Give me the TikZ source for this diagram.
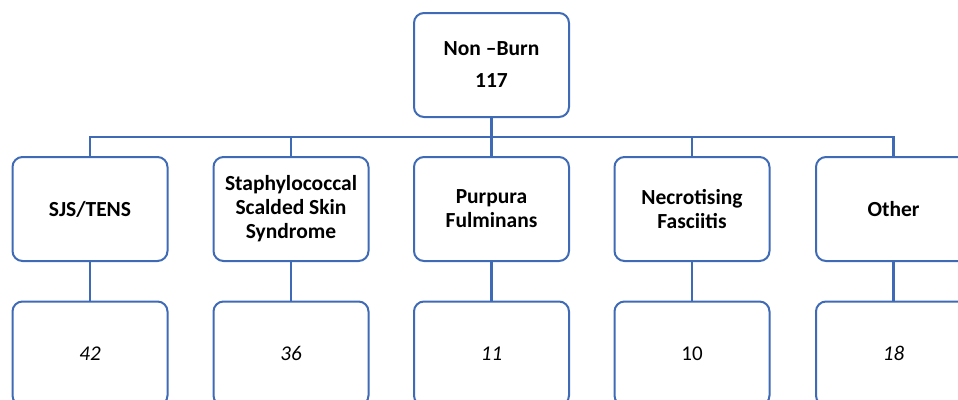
\documentclass[tikz,border=0pt]{standalone}
\usepackage{fontspec}
\setmainfont{Carlito}
\definecolor{boxblue}{RGB}{63,106,182}
\begin{document}
\begin{tikzpicture}[x=1pt,y=-1pt,
  box/.style={draw=boxblue, line width=2pt, rounded corners=10pt, fill=white,
    minimum width=155pt, minimum height=104pt, align=center, inner sep=2pt,
    font=\fontsize{21.5}{24}\selectfont\bfseries},
  numbox/.style={box, font=\fontsize{21}{24}\selectfont\itshape},
  conn/.style={draw=boxblue, line width=2.6pt}]
\useasboundingbox (0,0) rectangle (958,399);
\clip (0,0) rectangle (958,399);
\node[box] (top) at (491.5,65) {Non –Burn\\[8pt]117};
\node[box] (a) at (90,209) {SJS/TENS};
\node[box] (b) at (291,209) {Staphylococcal\\Scalded Skin\\Syndrome};
\node[box] (c) at (491.5,209) {Purpura\\Fulminans};
\node[box] (d) at (692,209) {Necrotising\\Fasciitis};
\node[box] (e) at (893.5,209) {Other};
\node[numbox] (a2) at (90,353.5) {42};
\node[numbox] (b2) at (291,353.5) {36};
\node[numbox] (c2) at (491.5,353.5) {11};
\node[box, font=\fontsize{21}{24}\selectfont] (d2) at (692,353.5) {10};
\node[numbox] (e2) at (893.5,353.5) {18};
\coordinate (bus) at (0,137);
\draw[conn] (top.south) -- (top.south |- bus);
\draw[conn] (a.north) -- (a.north |- bus) -- (e.north |- bus) -- (e.north);
\foreach \n in {b,c,d} \draw[conn] (\n.north) -- (\n.north |- bus);
\foreach \n in {a,b,c,d,e} \draw[conn] (\n.south) -- (\n2.north);
\end{tikzpicture}
\end{document}
